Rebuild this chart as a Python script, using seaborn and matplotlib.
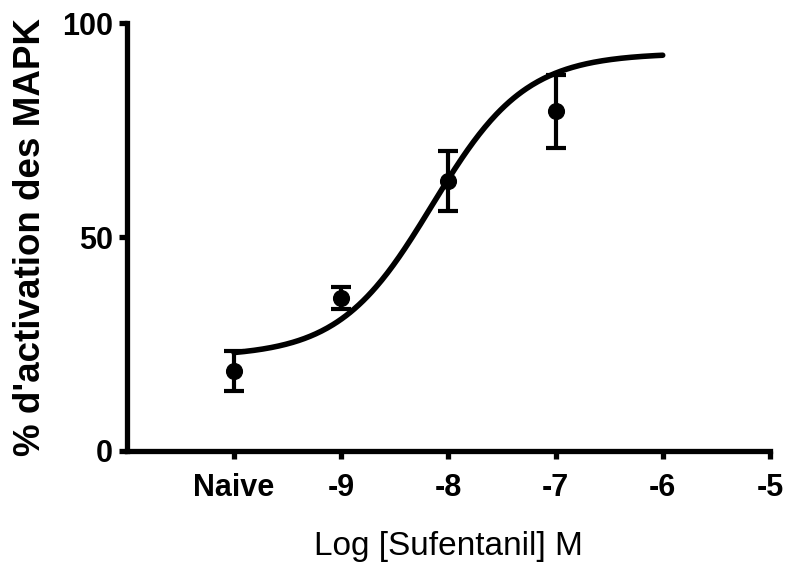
import numpy as np
import pandas as pd
import matplotlib
matplotlib.use("Agg")
import matplotlib.pyplot as plt
import seaborn as sns

# Data
log_dose = [-10, -9, -8, -7]           # -10 plotted as "Naive"
activation = [18.7, 35.7, 63.0, 79.4]
sem = [4.7, 2.5, 7.0, 8.5]

# Fitted sigmoid (log dose-response) parameters
fit_bottom = 22.0
fit_top = 93.0
fit_logec50 = -8.15
fit_hill = 1.0
fit_range = (-10, -6)

tick_positions = [-10, -9, -8, -7, -6, -5]
tick_labels = ["Naive", "-9", "-8", "-7", "-6", "-5"]
ytick_positions = [0, 50, 100]

sns.set_style("ticks")
plt.rcParams["font.family"] = ["Liberation Sans", "DejaVu Sans"]
plt.rcParams["text.color"] = "black"
plt.rcParams["axes.labelcolor"] = "black"
plt.rcParams["xtick.color"] = "black"
plt.rcParams["ytick.color"] = "black"

fig = plt.figure(figsize=(7.88, 5.65), dpi=100)
ax = fig.add_axes([0.161, 0.202, 0.816, 0.757])

xs = np.linspace(fit_range[0], fit_range[1], 300)
ys = fit_bottom + (fit_top - fit_bottom) / (1 + 10 ** ((fit_logec50 - xs) * fit_hill))
curve = pd.DataFrame({"x": xs, "y": ys})
sns.lineplot(data=curve, x="x", y="y", ax=ax, color="black", linewidth=4.0)

pts = pd.DataFrame({"x": log_dose, "y": activation, "e": sem})
ax.errorbar(pts["x"], pts["y"], yerr=pts["e"], fmt="none", ecolor="black",
            elinewidth=3.0, capsize=7.5, capthick=3.0, zorder=3)
sns.scatterplot(data=pts, x="x", y="y", ax=ax, color="black", s=130,
                edgecolor="black", zorder=4)

ax.set_xlim(-11, -5)
ax.set_ylim(0, 100)
ax.set_xticks(tick_positions)
ax.set_xticklabels(tick_labels, fontsize=22, fontweight="bold", color="black")
ax.set_yticks(ytick_positions)
ax.set_yticklabels([str(v) for v in ytick_positions], fontsize=22, fontweight="bold", color="black")
ax.tick_params(axis="x", width=3.8, length=6, color="black", pad=10)
ax.tick_params(axis="y", width=3.8, length=6, color="black", pad=4)

ax.set_xlabel("Log [Sufentanil] M", fontsize=24, labelpad=20, color="black")
ax.set_ylabel("% d'activation des MAPK", fontsize=26.5, fontweight="bold",
              labelpad=10, color="black")

sns.despine(ax=ax)
for s in ["left", "bottom"]:
    ax.spines[s].set_linewidth(3.8)
    ax.spines[s].set_color("black")
    ax.spines[s].set_capstyle("projecting")

fig.savefig("out.png", dpi=100)
